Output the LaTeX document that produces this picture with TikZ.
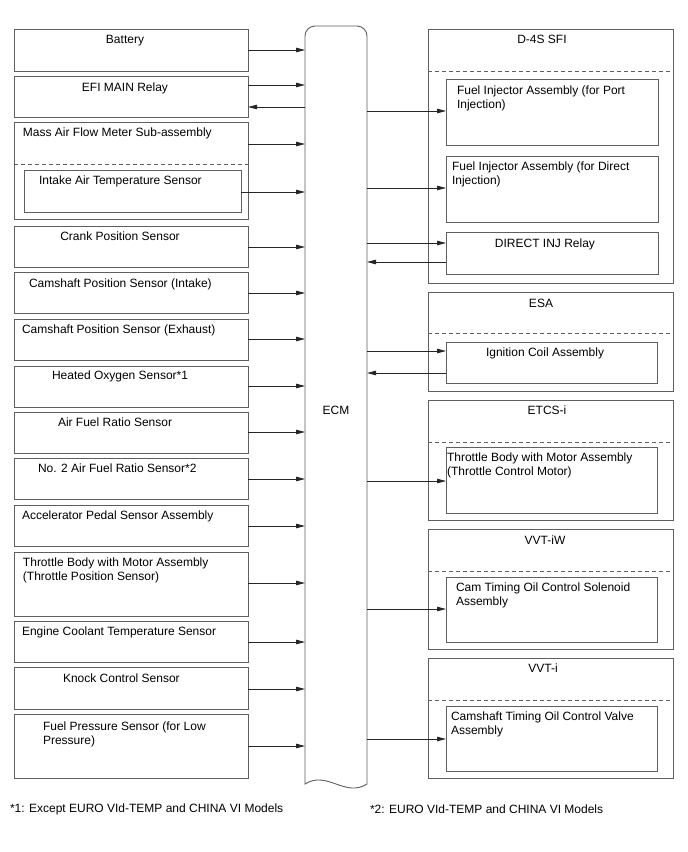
\documentclass[tikz,border=0pt]{standalone}
\usepackage{fontspec}
\setmainfont{Liberation Sans}
\usetikzlibrary{arrows.meta}
\definecolor{bxc}{RGB}{95,95,95}
\tikzset{
 box/.style={draw=bxc, line width=0.9pt, rectangle, inner sep=0pt, outer sep=0pt},
 lbl/.style={inner sep=0pt, outer sep=0pt, font=\fontsize{12}{14}\selectfont, align=left},
 fnote/.style={inner sep=0pt, outer sep=0pt, font=\fontsize{12}{14}\selectfont},
 arr/.style={draw=black!85, line width=0.8pt, -{Triangle[length=9pt,width=4.5pt]}},
 dsh/.style={draw=bxc, line width=0.9pt, dash pattern=on 4pt off 3pt},
 ecmline/.style={draw=bxc, line width=0.9pt},
}
\newcommand{\bx}[5]{\node[box, minimum width={(#4-#2)*1pt}, minimum height={(#5-#3)*1pt}] (#1) at ({(#2+#4)/2},{(#3+#5)/2}) {};}
\newcommand{\lt}[4]{\node[lbl, anchor=north west] (#1) at (#2,{#3-4}) {#4};}
\newcommand{\ct}[4]{\node[lbl, anchor=north] (#1) at (#2,{#3-4}) {#4};}
\begin{document}
\begin{tikzpicture}[x=1pt,y=-1pt]
\useasboundingbox[fill=white] (0,0) rectangle (688,852);
% ECM
\node[inner sep=0pt, outer sep=0pt, minimum width=62pt, minimum height=758pt] (ecm) at (336,405) {};
\draw[ecmline] (305,784) -- (305,36) .. controls (305,30.5) and (309.5,26) .. (315,26) -- (357,26)
  .. controls (362.5,26) and (367,30.5) .. (367,36) -- (367,784)
  .. controls (345,798) and (327,770) .. (305,784) -- cycle;
\node[lbl, anchor=center] (ecmt) at (336,410) {ECM};
% left boxes
\bx{bat}{14}{29}{248}{71}
\ct{tbat}{125}{39}{Battery}
\bx{efi}{14}{76}{248}{117}
\ct{tefi}{125}{87}{EFI MAIN Relay}
\bx{maf}{14}{122}{248}{219}
\draw[dsh] (maf.west |- 0,164) -- (maf.east |- 0,164);
\lt{tmaf}{23}{132}{Mass Air Flow Meter Sub-assembly}
\bx{iat}{24}{170}{241}{212}
\lt{tiat}{39}{180}{Intake Air Temperature Sensor}
\bx{crank}{14}{226}{248}{267}
\ct{tcrank}{120}{236}{Crank Position Sensor}
\bx{cami}{14}{272}{248}{313}
\lt{tcami}{29}{283}{Camshaft Position Sensor (Intake)}
\bx{came}{14}{319}{248}{360}
\lt{tcame}{22}{329}{Camshaft Position Sensor (Exhaust)}
\bx{hos}{14}{366}{248}{407}
\lt{thos}{52}{375}{Heated Oxygen Sensor*1}
\bx{afr}{14}{412}{248}{453}
\lt{tafr}{58}{422}{Air Fuel Ratio Sensor}
\bx{afrb}{14}{458}{248}{499}
\lt{tafrb}{38}{468}{No. 2 Air Fuel Ratio Sensor*2}
\bx{aps}{14}{505}{248}{546}
\lt{taps}{22}{515}{Accelerator Pedal Sensor Assembly}
\bx{tps}{14}{552}{248}{616}
\lt{ttps}{23}{562}{Throttle Body with Motor Assembly\\(Throttle Position Sensor)}
\bx{ect}{14}{621}{248}{662}
\lt{tect}{22}{631}{Engine Coolant Temperature Sensor}
\bx{ks}{14}{667}{248}{709}
\lt{tks}{63}{678}{Knock Control Sensor}
\bx{fps}{14}{714}{248}{778}
\lt{tfps}{43}{726}{Fuel Pressure Sensor (for Low\\Pressure)}
% left arrows
\draw[arr] (bat.east |- 0,50) -- (ecm.west |- 0,50);
\draw[arr] (efi.east |- 0,85) -- (ecm.west |- 0,85);
\draw[arr] (ecm.west |- 0,107) -- (efi.east |- 0,107);
\draw[arr] (maf.east |- 0,144) -- (ecm.west |- 0,144);
\draw[arr] (iat.east |- 0,192) -- (ecm.west |- 0,192);
\draw[arr] (crank.east |- 0,247) -- (ecm.west |- 0,247);
\draw[arr] (cami.east |- 0,293) -- (ecm.west |- 0,293);
\draw[arr] (came.east |- 0,339) -- (ecm.west |- 0,339);
\draw[arr] (hos.east |- 0,386) -- (ecm.west |- 0,386);
\draw[arr] (afr.east |- 0,432) -- (ecm.west |- 0,432);
\draw[arr] (afrb.east |- 0,479) -- (ecm.west |- 0,479);
\draw[arr] (aps.east |- 0,526) -- (ecm.west |- 0,526);
\draw[arr] (tps.east |- 0,583) -- (ecm.west |- 0,583);
\draw[arr] (ect.east |- 0,642) -- (ecm.west |- 0,642);
\draw[arr] (ks.east |- 0,689) -- (ecm.west |- 0,689);
\draw[arr] (fps.east |- 0,746) -- (ecm.west |- 0,746);
% right groups
\bx{d4s}{428}{29}{673}{283}
\draw[dsh] (d4s.west |- 0,71) -- (d4s.east |- 0,71);
\ct{td4s}{542}{39}{D-4S SFI}
\bx{injp}{446}{79}{658}{145}
\lt{tinjp}{457}{90}{Fuel Injector Assembly (for Port\\Injection)}
\bx{injd}{446}{156}{658}{222}
\lt{tinjd}{452}{166}{Fuel Injector Assembly (for Direct\\Injection)}
\bx{dinj}{446}{232}{658}{274}
\ct{tdinj}{545}{243}{DIRECT INJ Relay}
\bx{esa}{428}{292}{673}{391}
\draw[dsh] (esa.west |- 0,333) -- (esa.east |- 0,333);
\ct{tesa}{541}{303}{ESA}
\bx{ign}{446}{342}{657}{383}
\lt{tign}{486}{352}{Ignition Coil Assembly}
\bx{etcs}{428}{400}{673}{520}
\draw[dsh] (etcs.west |- 0,442) -- (etcs.east |- 0,442);
\ct{tetcs}{547}{410}{ETCS-i}
\bx{tbm}{446}{447}{657}{513}
\lt{ttbm}{447}{457}{Throttle Body with Motor Assembly\\(Throttle Control Motor)}
\bx{vvtiw}{428}{529}{673}{649}
\draw[dsh] (vvtiw.west |- 0,571) -- (vvtiw.east |- 0,571);
\ct{tvvtiw}{545}{540}{VVT-iW}
\bx{ocs}{446}{577}{657}{642}
\lt{tocs}{456}{587}{Cam Timing Oil Control Solenoid\\Assembly}
\bx{vvti}{428}{658}{673}{778}
\draw[dsh] (vvti.west |- 0,700) -- (vvti.east |- 0,700);
\ct{tvvti}{543}{668}{VVT-i}
\bx{ocv}{446}{706}{657}{771}
\lt{tocv}{451}{716}{Camshaft Timing Oil Control Valve\\Assembly}
% right arrows
\draw[arr] (ecm.east |- 0,111) -- (injp.west |- 0,111);
\draw[arr] (ecm.east |- 0,188) -- (injd.west |- 0,188);
\draw[arr] (ecm.east |- 0,243) -- (dinj.west |- 0,243);
\draw[arr] (dinj.west |- 0,262) -- (ecm.east |- 0,262);
\draw[arr] (ecm.east |- 0,351) -- (ign.west |- 0,351);
\draw[arr] (ign.west |- 0,373) -- (ecm.east |- 0,373);
\draw[arr] (ecm.east |- 0,481) -- (tbm.west |- 0,481);
\draw[arr] (ecm.east |- 0,609) -- (ocs.west |- 0,609);
\draw[arr] (ecm.east |- 0,739) -- (ocv.west |- 0,739);
% footnotes
\node[fnote, anchor=west] (fn1) at (10,809) {*1: Except EURO VId-TEMP and CHINA VI Models};
\node[fnote, anchor=west] (fn2) at (370,809) {*2: EURO VId-TEMP and CHINA VI Models};
\end{tikzpicture}
\end{document}
